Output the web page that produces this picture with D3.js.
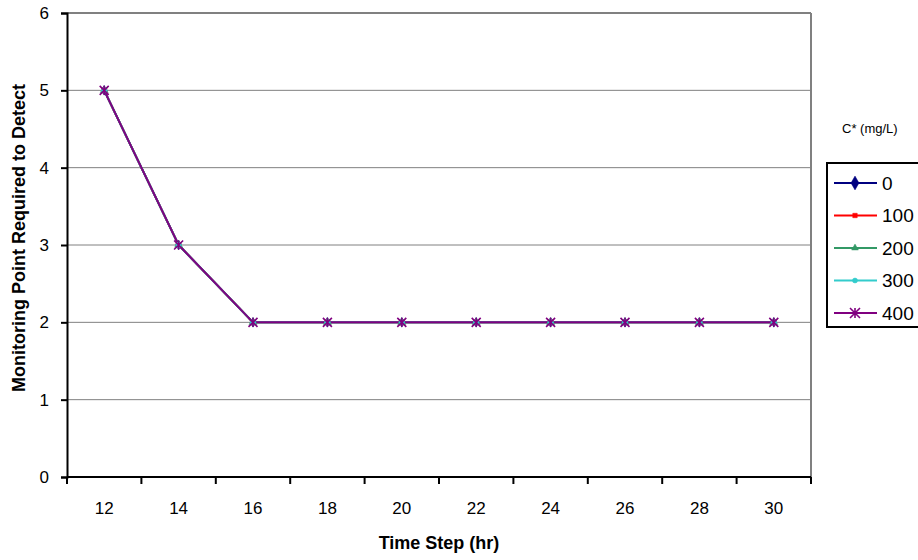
<!DOCTYPE html>
<html><head><meta charset="utf-8">
<script src="https://cdn.jsdelivr.net/npm/d3@7/dist/d3.min.js"></script>
<style>body{margin:0;background:#fff}svg{font-family:"Liberation Sans",Arial,sans-serif}</style>
</head><body><svg id="c" width="918" height="560"></svg>
<script>
const timeSteps = ["12","14","16","18","20","22","24","26","28","30"];
const seriesNames = ["0","100","200","300","400"];
const s0 = [5,3,2,2,2,2,2,2,2,2];
const s100 = [5,3,2,2,2,2,2,2,2,2];
const s200 = [5,3,2,2,2,2,2,2,2,2];
const s300 = [5,3,2,2,2,2,2,2,2,2];
const s400 = [5,3,2,2,2,2,2,2,2,2];
const yTicks = [0,1,2,3,4,5,6];
const colors = ["#000080","#FF0000","#339966","#33CCCC","#800080"];
const shapes = ["diamond","square","triangle","circle","star"];
const allSeries = [s0,s100,s200,s300,s400];

const svg = d3.select("#c");
const L=67,R=811,T=13,B=477;
const x = d3.scaleBand().domain(timeSteps).range([L,R]);
const y = d3.scaleLinear().domain([0,6]).range([B,T]);

// gridlines
svg.append("g").selectAll("line").data(yTicks.filter(d=>d>0)).join("line")
  .attr("x1",L).attr("x2",R).attr("y1",d=>y(d)).attr("y2",d=>y(d))
  .attr("stroke","#808080").attr("stroke-width",1);
svg.append("line").attr("x1",R).attr("x2",R).attr("y1",T).attr("y2",B).attr("stroke","#808080").attr("stroke-width",2);
svg.append("line").attr("x1",L).attr("x2",R).attr("y1",T).attr("y2",T).attr("stroke","#808080").attr("stroke-width",2);

// axes
const yAxis = svg.append("g").attr("transform",`translate(${L},0)`)
  .call(d3.axisLeft(y).tickValues(yTicks).tickSize(6).tickPadding(12).tickFormat(d3.format("d")));
const xAxis = svg.append("g").attr("transform",`translate(0,${B})`)
  .call(d3.axisBottom(x).tickSize(0).tickPadding(25));
const bounds = timeSteps.map(d=>x(d)).concat([R]);
svg.append("g").selectAll("line").data(bounds).join("line")
  .attr("x1",d=>d).attr("x2",d=>d).attr("y1",B).attr("y2",B+7)
  .attr("stroke","#000").attr("stroke-width",2);
[yAxis,xAxis].forEach(g=>{
  g.select(".domain").attr("stroke","#000").attr("stroke-width",2);
  g.selectAll(".tick line").attr("stroke","#000").attr("stroke-width",2);
  g.selectAll("text").attr("font-size",17).attr("fill","#000").attr("font-family","Liberation Sans, Arial, sans-serif");
});
xAxis.select(".domain").attr("d",`M${L},0H${R}`);

// axis titles
svg.append("text").attr("x",(L+R)/2+0).attr("y",549).attr("text-anchor","middle")
  .attr("font-size",18).attr("font-weight","bold").text("Time Step (hr)");
svg.append("text").attr("transform",`translate(25,${(T+B)/2-7}) rotate(-90)`).attr("text-anchor","middle")
  .attr("font-size",18).attr("font-weight","bold").text("Monitoring Point Required to Detect");

function marker(g, shape, color, size){
  if(shape==="star"){
    const s=size;
    g.append("path").attr("d",`M${-s},${-s}L${s},${s}M${-s},${s}L${s},${-s}M0,${-s}L0,${s}`)
      .attr("stroke",color).attr("stroke-width",1.6).attr("fill","none");
  } else {
    const map={diamond:d3.symbolDiamond,square:d3.symbolSquare,triangle:d3.symbolTriangle,circle:d3.symbolCircle};
    g.append("path").attr("d",d3.symbol().type(map[shape]).size(size*size*2.2)())
      .attr("fill",color).attr("stroke",color).attr("stroke-width",0.5);
  }
}

const line = d3.line().x((d,i)=>x(timeSteps[i])+x.bandwidth()/2).y(d=>y(d));
allSeries.forEach((vals,k)=>{
  svg.append("path").datum(vals).attr("d",line).attr("fill","none")
    .attr("stroke",colors[k]).attr("stroke-width",2);
});
allSeries.forEach((vals,k)=>{
  vals.forEach((v,i)=>{
    const g=svg.append("g").attr("transform",`translate(${x(timeSteps[i])+x.bandwidth()/2},${y(v)})`);
    marker(g,shapes[k],colors[k],k===4?4.5:3.5);
  });
});

// legend
svg.append("text").attr("x",842).attr("y",128).attr("dy","0.35em").attr("font-size",13).text("C* (mg/L)");
svg.append("rect").attr("x",827).attr("y",163).attr("width",100).attr("height",164)
  .attr("fill","#fff").attr("stroke","#000").attr("stroke-width",2);
seriesNames.forEach((n,k)=>{
  const yy=183+32.5*k;
  svg.append("line").attr("x1",834).attr("x2",877).attr("y1",yy).attr("y2",yy)
    .attr("stroke",colors[k]).attr("stroke-width",2);
  const g=svg.append("g").attr("transform",`translate(855,${yy})`);
  marker(g,shapes[k],colors[k],k===0?5:(k===4?5:3));
  svg.append("text").attr("x",882).attr("y",yy).attr("dy","0.36em").attr("font-size",19).text(n);
});
</script></body></html>
